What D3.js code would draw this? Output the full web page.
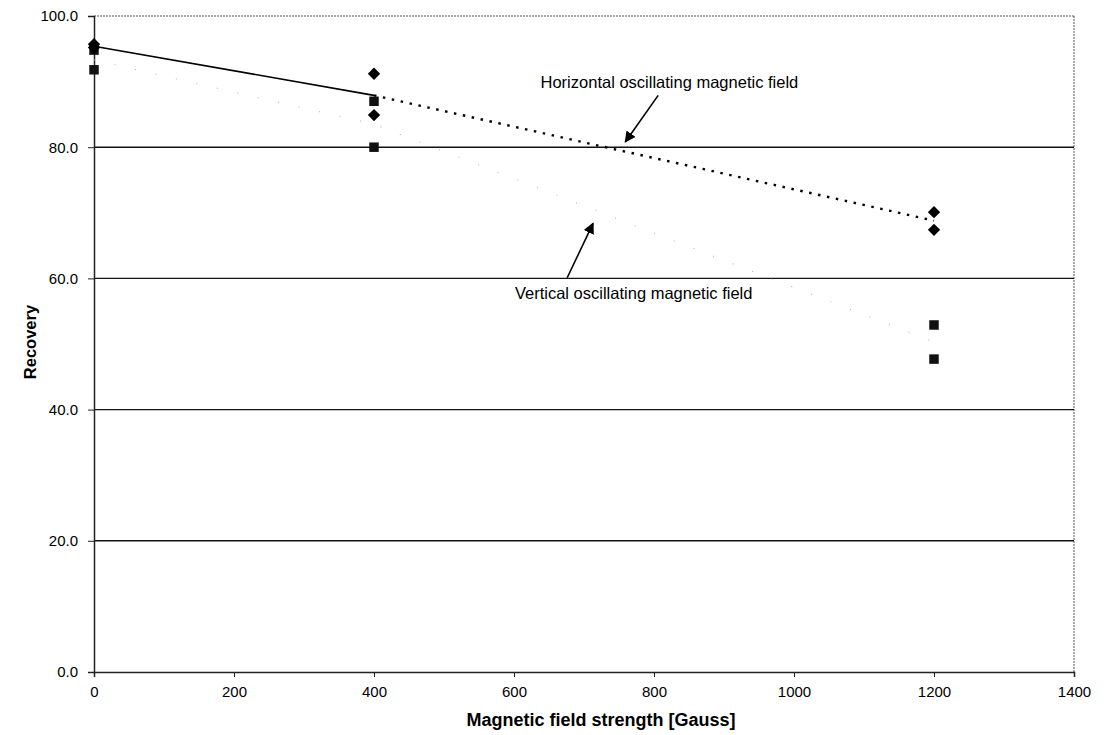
<!DOCTYPE html>
<html>
<head>
<meta charset="utf-8">
<script src="https://cdn.jsdelivr.net/npm/d3@7"></script>
<style>
  html, body { margin: 0; padding: 0; background: #fff; }
  svg { display: block; font-family: Arial, "Liberation Sans", sans-serif; }
</style>
</head>
<body>
<svg id="chart" width="1104" height="735"></svg>
<script>
// ---- data ----
const xTicks = [0, 200, 400, 600, 800, 1000, 1200, 1400];
const yTicks = [0, 20, 40, 60, 80, 100];

// Horizontal oscillating magnetic field (diamonds)
const horizX = [0, 0, 400, 400, 1200, 1200];
const horizY = [95.7, 95.2, 91.2, 84.9, 70.1, 67.4];
// Vertical oscillating magnetic field (squares)
const vertX = [0, 0, 400, 400, 1200, 1200];
const vertY = [94.8, 91.8, 87.0, 80.0, 52.9, 47.7];

// trend lines through mean values
const horizTrendX = [0, 400, 1200];
const horizTrendY = [95.4, 87.9, 68.8];
const vertTrendX = [0, 400, 1200];
const vertTrendY = [93.3, 83.5, 50.3];

const annotations = [
  { text: "Horizontal oscillating magnetic field", tx: 822, ty: 89.0, from: [806, 87.9], to: [759, 80.8] },
  { text: "Vertical oscillating magnetic field", tx: 771, ty: 56.8, from: [676, 60.1], to: [713, 68.4] }
];

// ---- layout ----
const svg = d3.select("#chart");
const m = { left: 94, right: 30, top: 16, bottom: 63 };
const W = 1104, H = 735;
const x = d3.scaleLinear().domain([0, 1400]).range([m.left, W - m.right]);
const y = d3.scaleLinear().domain([0, 100]).range([H - m.bottom, m.top]);

// plot border (dotted top / right)
svg.append("line").attr("x1", x(0)).attr("x2", x(1400)).attr("y1", y(100)).attr("y2", y(100))
  .attr("stroke", "#555").attr("stroke-width", 1).attr("stroke-dasharray", "2,1");
svg.append("line").attr("x1", x(1400)).attr("x2", x(1400)).attr("y1", y(100)).attr("y2", y(0))
  .attr("stroke", "#555").attr("stroke-width", 1).attr("stroke-dasharray", "2,1");

// gridlines
svg.append("g").selectAll("line").data(yTicks.filter(d => d > 0 && d < 100)).join("line")
  .attr("x1", x(0)).attr("x2", x(1400)).attr("y1", d => y(d)).attr("y2", d => y(d))
  .attr("stroke", "#111").attr("stroke-width", 1.4);

// axes
const yAxis = svg.append("g").attr("transform", `translate(${x(0)},0)`)
  .call(d3.axisLeft(y).tickValues(yTicks).tickFormat(d3.format(".1f")).tickSize(6).tickPadding(10));
const xAxis = svg.append("g").attr("transform", `translate(0,${y(0)})`)
  .call(d3.axisBottom(x).tickValues(xTicks).tickFormat(d3.format("d")).tickSize(5).tickPadding(9));
[yAxis, xAxis].forEach(a => {
  a.select(".domain").attr("stroke", "#222").attr("stroke-width", 1.5);
  a.selectAll(".tick line").attr("stroke", "#222");
  a.selectAll(".tick text").attr("font-size", 15).attr("fill", "#000")
    .attr("font-family", "Arial, 'Liberation Sans', sans-serif");
});

// trend lines
const line = d3.line().x(d => x(d[0])).y(d => y(d[1]));
const hPts = horizTrendX.map((v, i) => [v, horizTrendY[i]]);
const vPts = vertTrendX.map((v, i) => [v, vertTrendY[i]]);
svg.append("path").attr("d", line(vPts)).attr("fill", "none")
  .attr("stroke", "#aaa").attr("stroke-width", 1).attr("stroke-dasharray", "1,20");
svg.append("path").attr("d", line(hPts.slice(0, 2))).attr("fill", "none")
  .attr("stroke", "#000").attr("stroke-width", 1.6);
svg.append("path").attr("d", line(hPts.slice(1))).attr("fill", "none")
  .attr("stroke", "#000").attr("stroke-width", 2.4).attr("stroke-dasharray", "2.5,6.6");

// markers
svg.append("g").selectAll("path").data(vertX.map((v, i) => [v, vertY[i]])).join("path")
  .attr("d", d3.symbol().type(d3.symbolSquare).size(90))
  .attr("transform", d => `translate(${x(d[0])},${y(d[1])})`).attr("fill", "#111");
svg.append("g").selectAll("path").data(horizX.map((v, i) => [v, horizY[i]])).join("path")
  .attr("d", d3.symbol().type(d3.symbolDiamond2 || d3.symbolDiamond).size(80))
  .attr("transform", d => `translate(${x(d[0])},${y(d[1])}) scale(1.1,1.1)`).attr("fill", "#000");

// annotations
const defs = svg.append("defs");
defs.append("marker").attr("id", "arrow").attr("viewBox", "0 0 10 10").attr("refX", 9).attr("refY", 5)
  .attr("markerWidth", 7).attr("markerHeight", 7).attr("orient", "auto-start-reverse")
  .append("path").attr("d", "M0,0 L10,5 L0,10 z").attr("fill", "#000");
annotations.forEach(a => {
  svg.append("text").attr("x", x(a.tx)).attr("y", y(a.ty)).attr("text-anchor", "middle")
    .attr("font-size", 16.5).attr("fill", "#000").text(a.text);
  svg.append("line").attr("x1", x(a.from[0])).attr("y1", y(a.from[1]))
    .attr("x2", x(a.to[0])).attr("y2", y(a.to[1]))
    .attr("stroke", "#000").attr("stroke-width", 1.6).attr("marker-end", "url(#arrow)");
});

// axis titles
svg.append("text").attr("x", 601).attr("y", 726).attr("text-anchor", "middle")
  .attr("font-size", 18).attr("font-weight", "bold").text("Magnetic field strength [Gauss]");
svg.append("text").attr("transform", `translate(36,${(y(0) + y(100)) / 2 - 2}) rotate(-90)`)
  .attr("text-anchor", "middle").attr("font-size", 16.5).attr("font-weight", "bold").text("Recovery");
</script>
</body>
</html>
